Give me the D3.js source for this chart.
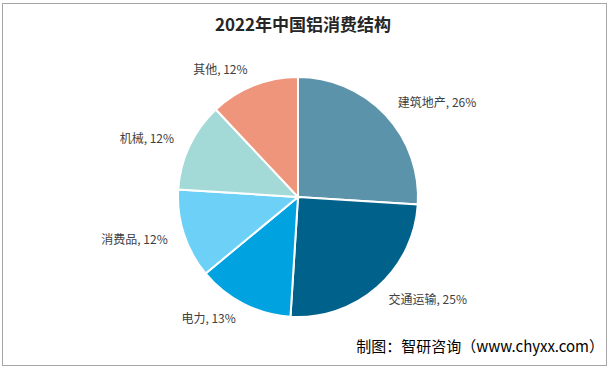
<!DOCTYPE html>
<html>
<head>
<meta charset="utf-8">
<script src="https://cdn.jsdelivr.net/npm/d3@7"></script>
<style>
  body { margin: 0; background: #fff; }
  text { font-family: "Noto Sans CJK SC", "Microsoft YaHei", sans-serif; }
</style>
</head>
<body>
<div id="chart"></div>
<script>
var width = 610;
var height = 369;

// data
var categories = ["建筑地产", "交通运输", "电力", "消费品", "机械", "其他"];
var shares = [26, 25, 13, 12, 12, 12];
var colors = ["#5B93AB", "#00618A", "#00A3DF", "#6DD1F7", "#A3DAD8", "#EE957C"];

var cx = 298, cy = 197, radius = 120, labelRadius = 137;

var svg = d3.select("#chart")
    .append("svg")
    .attr("width", width)
    .attr("height", height);

// outer border
svg.append("rect")
    .attr("x", 2.5)
    .attr("y", 3.5)
    .attr("width", 604)
    .attr("height", 362)
    .attr("fill", "#fff")
    .attr("stroke", "#A6A6A6")
    .attr("stroke-width", 1);

// title
svg.append("text")
    .attr("x", 303)
    .attr("y", 31)
    .attr("text-anchor", "middle")
    .attr("font-size", 17)
    .attr("font-weight", "bold")
    .attr("fill", "#262626")
    .text("2022年中国铝消费结构");

var pie = d3.pie().sort(null).value(function(d) { return d; });
var arcs = pie(shares);

var arc = d3.arc().innerRadius(0).outerRadius(radius);

var g = svg.append("g").attr("transform", "translate(" + cx + "," + cy + ")");

g.selectAll("path")
    .data(arcs)
    .enter()
    .append("path")
    .attr("d", arc)
    .attr("fill", function(d, i) { return colors[i]; })
    .attr("stroke", "#fff")
    .attr("stroke-width", 2);

// labels outside the slices
g.selectAll("text.label")
    .data(arcs)
    .enter()
    .append("text")
    .attr("class", "label")
    .attr("x", function(d) {
        var a = (d.startAngle + d.endAngle) / 2;
        return labelRadius * Math.sin(a);
    })
    .attr("y", function(d) {
        var a = (d.startAngle + d.endAngle) / 2;
        return -labelRadius * Math.cos(a);
    })
    .attr("dy", "0.35em")
    .attr("text-anchor", function(d) {
        var s = Math.sin((d.startAngle + d.endAngle) / 2);
        return s > 0.2 ? "start" : (s < -0.2 ? "end" : "middle");
    })
    .attr("font-size", 12)
    .attr("fill", "#404040")
    .text(function(d, i) { return categories[i] + ", " + shares[i] + "%"; });

// source note
svg.append("text")
    .attr("x", 604)
    .attr("y", 352)
    .attr("text-anchor", "end")
    .attr("font-size", 15)
    .attr("fill", "#000")
    .text("制图：智研咨询（www.chyxx.com）");
</script>
</body>
</html>
